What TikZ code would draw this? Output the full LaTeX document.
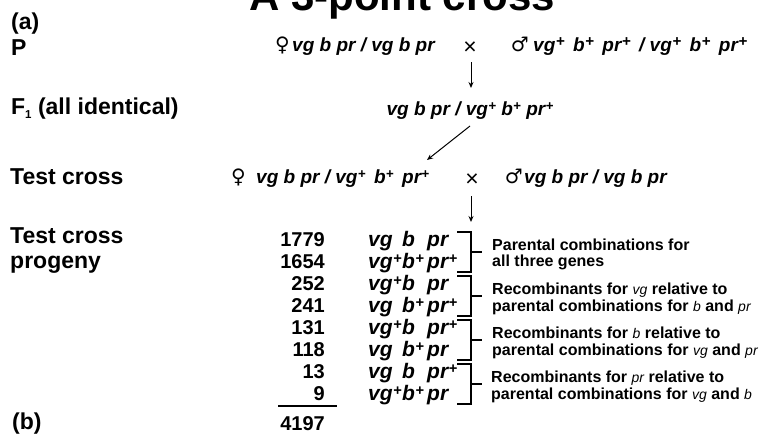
\documentclass[tikz,border=0pt]{standalone}
\usepackage{fontspec}
\setmainfont{Liberation Sans}
\newfontfamily\symfont{DejaVu Sans}
\usetikzlibrary{arrows.meta}
\newcommand{\pl}{\kern0.3pt\raisebox{0.42ex}{\scalebox{0.7}{+}}}
\newcommand{\plb}{\kern0.4pt\raisebox{0.4ex}{\scalebox{0.8}{+}}}
\newcommand{\gi}[1]{{\mdseries\itshape\fontsize{14}{14}\selectfont #1}}
\begin{document}
\begin{tikzpicture}[x=1pt,y=-1pt,
  lab/.style={anchor=base west, inner sep=0, font=\fontsize{23}{26}\selectfont\bfseries},
  geno/.style={anchor=base west, inner sep=0, font=\fontsize{19}{20}\selectfont\bfseries\itshape},
  sym/.style={anchor=base east, inner sep=0, font=\fontsize{20}{22}\selectfont\symfont},
  crossx/.style={anchor=base, inner sep=0, font=\fontsize{23}{24}\selectfont},
  num/.style={anchor=base east, inner sep=0, font=\fontsize{20}{22}\selectfont\bfseries},
  pg/.style={anchor=base west, inner sep=0, font=\fontsize{21}{22}\selectfont\bfseries\itshape},
  desc/.style={anchor=base west, inner sep=0, font=\fontsize{16}{17}\selectfont\bfseries},
  arr/.style={-{Stealth[length=6pt,width=5pt]}, line width=1pt},
  brk/.style={line width=1.9pt}]
\useasboundingbox (0,0) rectangle (763,437);
\clip (0,0) rectangle (763,437);
\fill[white] (0,0) rectangle (763,437);
% title (cut off at the top)
\node[anchor=base, inner sep=0, font=\fontsize{42}{44}\selectfont\bfseries] (title) at (402,10) {A 3-point cross};
% left labels
\node[lab] (la) at (11,29) {(a)};
\node[lab] (lp) at (11,55) {P};
\node[lab] (lf) at (11,114) {F\raisebox{-0.35ex}{\scalebox{0.5}{1}} (all identical)};
\node[lab] (lt) at (10,184) {Test cross};
\node[lab] (lt2) at (10,243) {Test cross};
\node[lab] (lpr) at (10,268) {progeny};
\node[lab] (lb) at (12,429) {(b)};
% P row
\node[sym] (pf) at (290,51) {♀};
\node[geno] (pg1) at (292,51) {vg b pr / vg b pr};
\node[crossx] (px) at (470,54) {×};
\node[sym] (pm) at (529,51) {♂};
\node[geno] (pg2) at (533,51) {vg\plb{}\, b\plb{}\, pr\plb{}\, / vg\plb{}\, b\plb{}\, pr\plb};
% F1
\node[geno, anchor=base] (f1) at (470,115) {vg b pr / vg\pl{} b\pl{} pr\pl};
% Test cross
\node[sym] (tf) at (246,183) {♀};
\node[geno] (tg1) at (256,183) {vg b pr / vg\pl{}\, b\pl{}\, pr\pl};
\node[crossx] (tx) at (472,186) {×};
\node[sym] (tm) at (523,183) {♂};
\node[geno] (tg2) at (524,183) {vg b pr / vg b pr};
% arrows
\coordinate (a1s) at (471,62);
\coordinate (a1e) at (471,88);
\coordinate (a2s) at (470,126);
\coordinate (a2e) at (427,160);
\coordinate (a3s) at (471,196);
\coordinate (a3e) at (471,222);
\draw[arr] (a1s) -- (a1e);
\draw[arr] (a2s) -- (a2e);
\draw[arr] (a3s) -- (a3e);
% progeny table
\foreach \i/\n/\ga/\gb/\gc in {0/1779/vg/b/pr, 1/1654/vg\pl/b\pl/pr\pl, 2/252/vg\pl/b/pr, 3/241/vg/b\pl/pr\pl, 4/131/vg\pl/b/pr\pl, 5/118/vg/b\pl/pr, 6/13/vg/b/pr\pl, 7/9/vg\pl/b\pl/pr}{
  \pgfmathsetmacro{\yb}{246+22*\i}
  \node[num] (n\i) at (325,\yb) {\n};
  \node[pg] (ga\i) at (368,\yb) {\ga};
  \node[pg] (gb\i) at (402,\yb) {\gb};
  \node[pg] (gc\i) at (427,\yb) {\gc};
}
\draw[line width=1.2pt] (278,406) -- (337,406);
\node[num] (tot) at (325,430) {4197};
% brackets
\foreach \k in {0,1,2,3}{
  \pgfmathsetmacro{\yt}{232+44*\k}
  \pgfmathsetmacro{\yo}{272+44*\k}
  \pgfmathsetmacro{\ym}{252+44*\k}
  \draw[brk] (457,\yt) -- (471,\yt) -- (471,\yo) -- (457,\yo);
  \draw[brk] (471,\ym) -- (482,\ym);
}
% descriptions
\node[desc] (d1a) at (492,250) {Parental combinations for};
\node[desc] (d1b) at (492,266) {all three genes};
\node[desc] (d2a) at (492,294) {Recombinants for \gi{vg} relative to};
\node[desc] (d2b) at (492,311) {parental combinations for \gi{b} and \gi{pr}};
\node[desc] (d3a) at (492,338) {Recombinants for \gi{b} relative to};
\node[desc] (d3b) at (492,355) {parental combinations for \gi{vg} and \gi{pr}};
\node[desc] (d4a) at (491,382) {Recombinants for \gi{pr} relative to};
\node[desc] (d4b) at (491,399) {parental combinations for \gi{vg} and \gi{b}};
\end{tikzpicture}
\end{document}
